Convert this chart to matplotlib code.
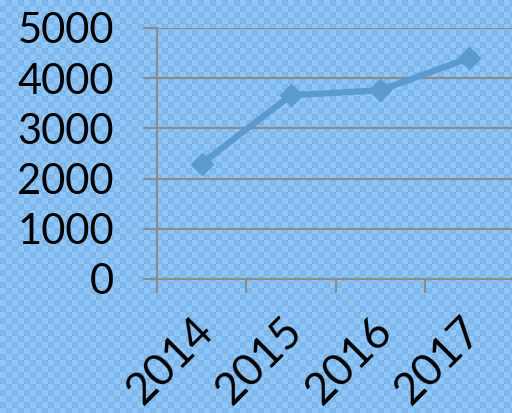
import numpy as np
import matplotlib.pyplot as plt
import matplotlib.transforms as mtransforms

# Data
years = ['2014', '2015', '2016', '2017']
values = [2300, 3660, 3760, 4400]
yticks = [0, 1000, 2000, 3000, 4000, 5000]

plt.rcParams['font.family'] = ['Lato', 'DejaVu Sans']

fig = plt.figure(figsize=(5.12, 4.13), dpi=100)

# checkered light blue background
H, W = 413, 512
base = np.array([0x8e, 0xc6, 0xf7]) / 255
dark = np.array([0x7e, 0xb6, 0xea]) / 255
yy, xx = np.mgrid[0:H, 0:W]
cell = ((xx // 6) + (yy // 6)) % 2 == 1
inner = cell & ((xx % 6 >= 2) & (xx % 6 <= 3) & (yy % 6 >= 2) & (yy % 6 <= 3))
bg = np.empty((H, W, 3))
bg[:] = base
bg[cell] = dark
bg[inner] = base * 0.5 + dark * 0.5
fig.figimage(bg, 0, 0, zorder=-10)
fig.patch.set_alpha(0)

ax = fig.add_axes([157 / 512, 1 - 279 / 413, 357 / 512, 251 / 413])
ax.set_facecolor('none')

x = np.arange(len(years))
ax.plot(x, values, color='#5b9bd0', lw=4.5, marker='D', ms=11,
        markerfacecolor='#5b9bd0', markeredgecolor='#5b9bd0', zorder=3)

ax.set_xlim(-0.5, 3.5)
ax.set_ylim(0, 5000)
ax.set_yticks(yticks)
ax.set_yticklabels([str(v) for v in yticks], fontsize=30)
ax.set_xticks(x)
ax.set_xticklabels(years, fontsize=32, rotation=45, ha='right',
                   rotation_mode='anchor')
ax.set_xticks(np.arange(-0.5, 3.5, 1), minor=True)

ax.tick_params(axis='y', length=10, width=1.5, color='#8c8c8c', pad=21)
ax.tick_params(axis='x', which='major', length=0, pad=22)
ax.tick_params(axis='x', which='minor', length=10, width=1.5, color='#8c8c8c')

# nudge the rotated year labels left
shift = mtransforms.ScaledTranslation(-9 / 100, 0, fig.dpi_scale_trans)
for lab in ax.get_xticklabels():
    lab.set_transform(lab.get_transform() + shift)

ax.grid(axis='y', color='#8c8c8c', lw=1.5)
ax.set_axisbelow(True)
for s in ['top', 'right']:
    ax.spines[s].set_visible(False)
for s in ['left', 'bottom']:
    ax.spines[s].set_color('#8c8c8c')
    ax.spines[s].set_linewidth(1.5)

fig.savefig('out.png', dpi=100)
